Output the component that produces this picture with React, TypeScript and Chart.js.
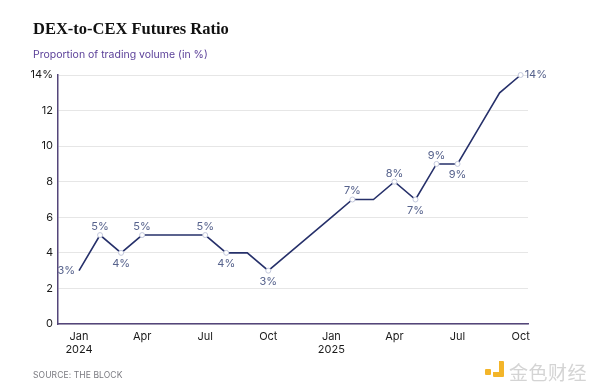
import React, { useEffect, useRef } from "react";
import { Chart, registerables } from "chart.js";

Chart.register(...registerables);

const months = [
  "Jan 2024", "Feb 2024", "Mar 2024", "Apr 2024", "May 2024", "Jun 2024",
  "Jul 2024", "Aug 2024", "Sep 2024", "Oct 2024", "Nov 2024", "Dec 2024",
  "Jan 2025", "Feb 2025", "Mar 2025", "Apr 2025", "May 2025", "Jun 2025",
  "Jul 2025", "Aug 2025", "Sep 2025", "Oct 2025",
];
const ratio = [3, 5, 4, 5, 5, 5, 5, 4, 4, 3, 4, 5, 6, 7, 7, 8, 7, 9, 9, 11, 13, 14];
const labeledIdx = [0, 1, 2, 3, 6, 7, 9, 13, 15, 16, 17, 18, 21];
const xTickMonths = ["Jan", "Apr", "Jul", "Oct", "Jan", "Apr", "Jul", "Oct"];
const xTickYears = ["2024", "", "", "", "2025", "", "", ""];
const yTicks = [0, 2, 4, 6, 8, 10, 12, 14];

const FONT = "Inter, 'Liberation Sans', sans-serif";

const labelPlugin = {
  id: "pointLabels",
  afterDatasetsDraw(chart: any) {
    const meta = chart.getDatasetMeta(0);
    const ctx = chart.ctx;
    ctx.save();
    ctx.font = `11px ${FONT}`;
    ctx.fillStyle = "#56628c";
    const n = ratio.length;
    labeledIdx.forEach((i) => {
      const el = meta.data[i];
      if (!el) return;
      const v = ratio[i];
      const text = `${v}%`;
      let pos = "above";
      if (i === 0) pos = "left";
      else if (i === n - 1) pos = "right";
      else {
        const prev = ratio[i - 1];
        const next = ratio[i + 1];
        if (prev < v) pos = "above";
        else if (prev > v) pos = "below";
        else pos = next > v ? "below" : "above";
      }
      ctx.textBaseline = "middle";
      if (pos === "left") {
        ctx.textAlign = "right";
        ctx.fillText(text, el.x - 4, el.y);
      } else if (pos === "right") {
        ctx.textAlign = "left";
        ctx.fillText(text, el.x + 4, el.y);
      } else if (pos === "above") {
        ctx.textAlign = "center";
        ctx.fillText(text, el.x, el.y - 8.5);
      } else {
        ctx.textAlign = "center";
        ctx.fillText(text, el.x, el.y + 11);
      }
    });
    ctx.restore();
  },
};

export default function App() {
  const ref = useRef<HTMLCanvasElement>(null);

  useEffect(() => {
    if (!ref.current) return;
    const data = ratio.map((v, i) => ({ x: i, y: v }));
    const radii = ratio.map((_, i) => (labeledIdx.includes(i) && i > 0 ? 2.5 : 0));
    const chart = new Chart(ref.current, {
      type: "line",
      data: {
        labels: months,
        datasets: [
          {
            data,
            borderColor: "#26306a",
            borderWidth: 1.6,
            pointRadius: radii,
            pointBorderColor: "#c3c8dc",
            pointBackgroundColor: "#ffffff",
            pointBorderWidth: 1,
            pointHoverRadius: 0,
            tension: 0,
            clip: false as any,
          },
        ],
      },
      options: {
        animation: false,
        responsive: false,
        maintainAspectRatio: false,
        layout: { padding: { top: 75, right: 72, left: 0, bottom: 0 } },
        plugins: {
          legend: { display: false },
          tooltip: { enabled: false },
        },
        scales: {
          x: {
            type: "linear",
            min: -1,
            max: 21.35,
            afterFit: (s: any) => {
              s.height = 67;
            },
            afterBuildTicks: (s: any) => {
              s.ticks = xTickMonths.map((_, k) => ({ value: k * 3 }));
            },
            grid: { display: false, drawTicks: false },
            border: { display: true, color: "#54467a", width: 1.5 },
            ticks: {
              padding: 6,
              maxRotation: 0,
              autoSkip: false,
              color: "#1a1a1a",
              font: { family: FONT, size: 11 },
              callback: (v: any) => {
                const k = Math.round(Number(v) / 3);
                const y = xTickYears[k];
                return y ? [xTickMonths[k], y] : xTickMonths[k];
              },
            },
          },
          y: {
            min: 0,
            max: 14,
            afterFit: (s: any) => {
              s.width = 58;
            },
            afterBuildTicks: (s: any) => {
              s.ticks = yTicks.map((v) => ({ value: v }));
            },
            grid: { color: "#e6e6e6", drawTicks: false, lineWidth: 1 },
            border: { display: true, color: "#54467a", width: 1.5 },
            ticks: {
              padding: 5,
              color: "#1a1a1a",
              font: { family: FONT, size: 11 },
              callback: (v: any) => (v === 14 ? "14%" : String(v)),
            },
          },
        },
      },
      plugins: [labelPlugin],
    });
    return () => chart.destroy();
  }, []);

  return (
    <div style={{ position: "absolute", left: 0, top: 0, width: 600, height: 391, background: "#fff", overflow: "hidden" }}>
      <canvas ref={ref} width={600} height={391} style={{ position: "absolute", left: 0, top: 0, width: 600, height: 391 }} />
      <div style={{ position: "absolute", left: 33, top: 19, fontFamily: "'Liberation Serif', serif", fontWeight: 700, fontSize: 16.5, color: "#111", whiteSpace: "nowrap" }}>
        DEX-to-CEX Futures Ratio
      </div>
      <div style={{ position: "absolute", left: 33, top: 48, fontFamily: FONT, fontSize: 10.5, color: "#5a3f98", whiteSpace: "nowrap" }}>
        Proportion of trading volume (in %)
      </div>
      <div style={{ position: "absolute", left: 33, top: 370, fontFamily: FONT, fontSize: 8.5, color: "#7a7a80", letterSpacing: 0.1, whiteSpace: "nowrap" }}>
        SOURCE: THE BLOCK
      </div>
      <div style={{ position: "absolute", left: 485, top: 361, width: 22, height: 17 }}>
        <div style={{ position: "absolute", left: 0, top: 8, width: 6, height: 6, background: "#f3b529", borderRadius: 1 }} />
        <div style={{ position: "absolute", left: 8, top: 0, width: 11, height: 16, background: "#f3b529", borderRadius: 1 }} />
        <div style={{ position: "absolute", left: 8, top: 0, width: 6, height: 11, background: "#fff" }} />
      </div>
      <div style={{ position: "absolute", left: 509, top: 358, fontFamily: "'Noto Sans CJK SC', sans-serif", fontSize: 19, color: "#d4d4d4", whiteSpace: "nowrap", letterSpacing: 0.5 }}>
        金色财经
      </div>
    </div>
  );
}
